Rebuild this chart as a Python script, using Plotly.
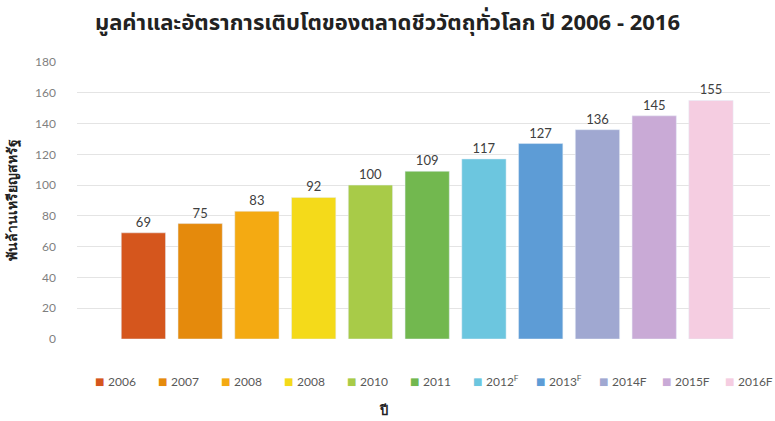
import plotly.graph_objects as go

categories = ["2006", "2007", "2008", "2009", "2010", "2011", "2012F", "2013F", "2014F", "2015F", "2016F"]
legend_names = ["2006", "2007", "2008", "2008", "2010", "2011", "2012<sup>F</sup>", "2013<sup>F</sup>", "2014F", "2015F", "2016F"]
values = [69, 75, 83, 92, 100, 109, 117, 127, 136, 145, 155]
colors = ["#D5561D", "#E58A0C", "#F4AA12", "#F4DA1A", "#A8CB48", "#72B84F",
          "#6CC6DF", "#5D9CD6", "#A0A8D1", "#C9AAD6", "#F5CDE1"]

title_text = "มูลค่าและอัตราการเติบโตของตลาดชีววัตถุทั่วโลก ปี 2006 - 2016"
ytitle = "พันล้านเหรียญสหรัฐ"
xtitle = "ปี"

W, H = 775, 421
ML, MR, MT, MB = 77, 5, 62, 82
PW = W - ML - MR
PH = H - MT - MB

def px_x(px):
    return (px - ML) / PW

def px_y(py):
    return (H - MB - py) / PH

fig = go.Figure()
for cat, name, v, c in zip(categories, legend_names, values, colors):
    fig.add_trace(go.Bar(
        x=[cat], y=[v], name=name, marker_color=c, width=0.78,
        text=[str(v)], textposition="outside",
        textfont=dict(size=13, color="#404040", family="Lato, Liberation Sans, sans-serif"),
        cliponaxis=False, showlegend=False,
    ))

# custom compact legend (matches the reference's tight spacing)
annotations = []
for i, (name, c) in enumerate(zip(legend_names, colors)):
    sq = 93 + 63 * i
    annotations.append(dict(
        x=px_x(sq), y=px_y(381), xref="paper", yref="paper",
        xanchor="left", yanchor="middle", showarrow=False,
        text="■", font=dict(size=10, color=c, family="DejaVu Sans, sans-serif")))
    annotations.append(dict(
        x=px_x(sq + 13), y=px_y(381), xref="paper", yref="paper",
        xanchor="left", yanchor="middle", showarrow=False,
        text=name, font=dict(size=12, color="#595959", family="Lato, Liberation Sans, sans-serif")))

annotations.append(dict(
    x=px_x(383), y=px_y(410), xref="paper", yref="paper",
    xanchor="center", yanchor="middle", showarrow=False,
    text="<b>" + xtitle + "</b>", font=dict(size=13, color="#222222")))

fig.update_layout(
    width=W, height=H,
    margin=dict(l=ML, r=MR, t=MT, b=MB),
    paper_bgcolor="white", plot_bgcolor="white",
    barmode="overlay",
    title=dict(text="<b>" + title_text + "</b>", x=0.5, xanchor="center", y=0.948, yanchor="middle",
               font=dict(size=22, color="#222222", family="Noto Sans Thai, Tahoma, DejaVu Sans, sans-serif")),
    xaxis=dict(categoryorder="array", categoryarray=categories,
               range=[-1.17, 11.04], showticklabels=False, showgrid=False,
               zeroline=False, showline=False),
    yaxis=dict(range=[0, 180], dtick=20, showgrid=True, gridcolor="#E4E4E4", gridwidth=1,
               zeroline=False, ticks="", ticklabelstandoff=20,
               tickfont=dict(size=12, color="#7F7F7F", family="Lato, Liberation Sans, sans-serif"),
               title=dict(text="<b>" + ytitle + "</b>", standoff=14,
                          font=dict(size=14, color="#222222"))),
    annotations=annotations,
    showlegend=False,
)

fig.write_html("out.html")
